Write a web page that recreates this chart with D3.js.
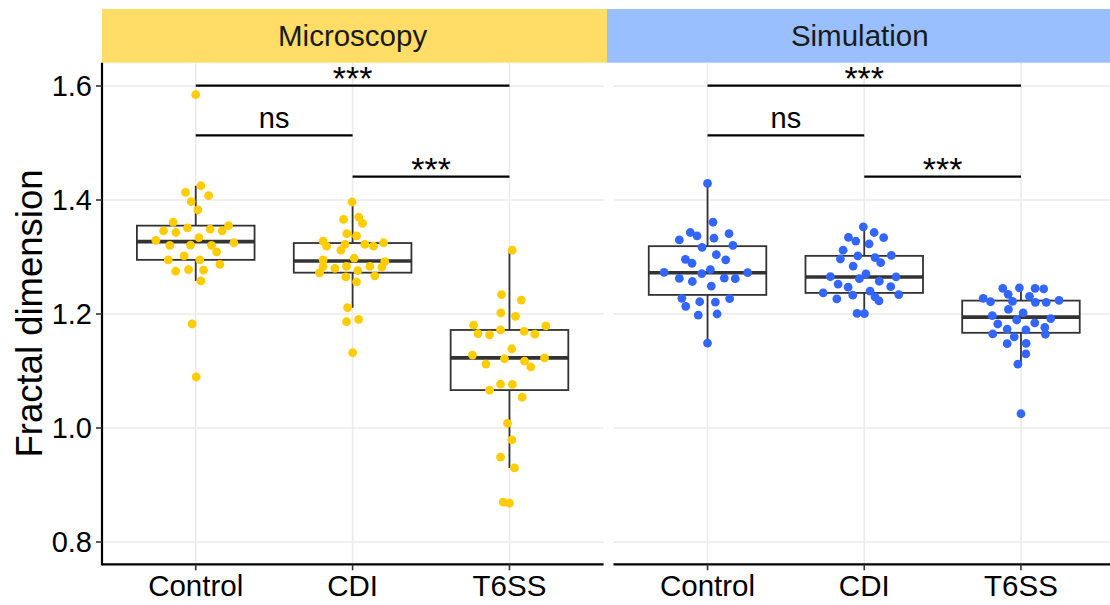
<!DOCTYPE html>
<html>
<head>
<meta charset="utf-8">
<script src="https://cdn.jsdelivr.net/npm/d3@7"></script>
<style>
	body { margin: 0; background: #fff; }
	svg { display: block; font-family: "Liberation Sans", Arial, Helvetica, sans-serif; }
</style>
</head>
<body>
<div id="chart"></div>
<script>
// categories / facets
var categories = ["Control", "CDI", "T6SS"];
var facets = ["Microscopy", "Simulation"];
var yTicks = [0.8, 1.0, 1.2, 1.4, 1.6];

// Microscopy values (fractal dimension) and horizontal jitter (category units)
var microControl = [1.585,1.425,1.4135,1.4075,1.397,1.3825,1.361,1.355,1.346,1.343,1.351,1.349,1.346,1.334,1.329,1.325,1.3205,1.321,1.3205,1.309,1.302,1.295,1.295,1.287,1.275,1.278,1.277,1.258,1.1825,1.0895];
var microControlJit = [0,0.033,-0.065,0.082,-0.029,0.014,-0.144,0.209,-0.205,-0.126,-0.052,0.092,0.168,0.02,-0.254,0.243,-0.165,-0.033,0.101,0.133,-0.074,-0.175,0.026,0.154,-0.128,-0.046,0.05,0.033,-0.023,0.003];
var microCDI = [1.3965,1.366,1.37,1.359,1.341,1.337,1.328,1.319,1.322,1.312,1.322,1.319,1.325,1.298,1.295,1.292,1.283,1.28,1.2835,1.276,1.2835,1.282,1.272,1.265,1.2565,1.267,1.211,1.1865,1.1905,1.132];
var microCDIJit = [-0.003,-0.058,0.039,0.063,-0.037,0.025,-0.188,-0.166,-0.048,-0.075,0.078,0.133,0.197,0.01,-0.188,0.205,-0.188,-0.113,-0.039,0.033,0.11,0.186,-0.211,-0.043,0.025,0.141,-0.032,-0.039,0.038,0];
var microT6SS = [1.312,1.234,1.2245,1.202,1.196,1.1805,1.179,1.1655,1.1635,1.172,1.1695,1.1645,1.139,1.128,1.1215,1.1175,1.123,1.112,1.107,1.0665,1.077,1.0765,1.054,1.008,0.979,0.949,0.93,0.87,0.868];
var microT6SSJit = [0.017,-0.051,0.075,-0.055,0.038,-0.229,0.232,-0.201,-0.127,-0.057,0.094,0.162,0.015,-0.236,-0.032,0.096,0.223,-0.15,0.136,-0.127,-0.057,0.019,0.081,-0.013,0.015,-0.057,0.032,-0.04,0];

// Simulation values and jitter
var simControl = [1.429,1.361,1.343,1.337,1.341,1.33,1.333,1.3205,1.317,1.304,1.296,1.289,1.295,1.273,1.278,1.271,1.2725,1.2625,1.257,1.263,1.262,1.249,1.2275,1.2215,1.221,1.227,1.2135,1.198,1.2,1.149];
var simControlJit = [0,0.035,-0.11,-0.067,0.137,-0.18,0.041,0.162,-0.035,0.056,-0.141,-0.099,0.116,-0.277,0.018,-0.037,0.256,-0.18,-0.097,0.107,0.177,0.024,-0.164,-0.05,0.05,0.141,-0.139,-0.059,0.061,0];
var simCDI = [1.353,1.3345,1.328,1.343,1.334,1.323,1.312,1.302,1.2965,1.299,1.29,1.303,1.284,1.2705,1.2655,1.262,1.2575,1.265,1.2525,1.247,1.248,1.237,1.233,1.24,1.23,1.234,1.2265,1.223,1.201,1.2005];
var simCDIJit = [-0.006,-0.101,-0.054,0.063,0.124,0.031,-0.135,-0.041,-0.152,0.069,0.105,0.173,-0.071,0.011,-0.216,-0.031,0.096,0.203,-0.167,-0.103,0.169,-0.262,-0.073,0.037,0.069,0.22,-0.175,0.094,-0.046,0.001];
var simT6SS = [1.246,1.245,1.245,1.244,1.2345,1.231,1.2275,1.2215,1.222,1.2205,1.2205,1.224,1.208,1.202,1.197,1.192,1.1895,1.1825,1.1845,1.1735,1.1765,1.172,1.165,1.16,1.1645,1.148,1.1485,1.13,1.112,1.025];
var simT6SSJit = [-0.01,-0.116,0.09,0.145,-0.082,0.054,-0.241,-0.194,-0.054,0.092,0.161,0.243,-0.08,0.014,-0.183,0.19,-0.027,-0.148,0.088,-0.088,0.152,0.031,-0.18,-0.043,0.156,-0.088,0.033,0.031,-0.02,0];

// box stats [lower whisker, q1, median, q3, upper whisker]
var microBoxes = [[1.258,1.295,1.327,1.355,1.425],[1.211,1.2725,1.293,1.3245,1.3965],[0.930,1.0665,1.123,1.172,1.312]];
var simBoxes = [[1.149,1.2335,1.2725,1.319,1.429],[1.2005,1.237,1.265,1.302,1.353],[1.112,1.167,1.1945,1.2235,1.246]];

// significance brackets: [from, to, y, label]
var comparisons = [["Control","T6SS",1.6005,"***"],["Control","CDI",1.5135,"ns"],["CDI","T6SS",1.441,"***"]];

var stripColors = ["#FFDD66", "#99BFFF"];
var pointColors = ["#FFCC00", "#3366FF"];

var width = 1110, height = 605;
var panelTop = 62.7, panelBottom = 564.3;
var panelX = [[101.6, 603.6], [613.5, 1115]];
var stripX = [[102, 607], [607, 1115]];

var svg = d3.select("#chart").append("svg")
	.attr("width", width)
	.attr("height", height);

var y = d3.scaleLinear().domain([0.8, 1.6]).range([542, 86]);

var groups = [
	[{v: microControl, j: microControlJit}, {v: microCDI, j: microCDIJit}, {v: microT6SS, j: microT6SSJit}],
	[{v: simControl, j: simControlJit}, {v: simCDI, j: simCDIJit}, {v: simT6SS, j: simT6SSJit}]
];
var boxes = [microBoxes, simBoxes];

facets.forEach(function(f, fi) {
	var x = d3.scalePoint().domain(categories).range(panelX[fi]).padding(0.6);
	var step = x.step();
	var bw = step * 0.75;
	var g = svg.append("g");

	// strip
	g.append("rect")
		.attr("x", stripX[fi][0]).attr("y", 9)
		.attr("width", stripX[fi][1] - stripX[fi][0]).attr("height", panelTop - 9)
		.style("fill", stripColors[fi]);
	g.append("text")
		.attr("x", (panelX[fi][0] + Math.min(panelX[fi][1], width)) / 2 + (fi == 0 ? 0 : -2))
		.attr("y", 46)
		.attr("text-anchor", "middle")
		.style("font-size", "29.5px")
		.style("fill", "#1a1a1a")
		.text(f);

	// grid
	g.selectAll(".hgrid").data(yTicks).enter().append("line")
		.attr("x1", panelX[fi][0]).attr("x2", panelX[fi][1])
		.attr("y1", function(d) { return y(d); }).attr("y2", function(d) { return y(d); })
		.style("stroke", "#EBEBEB").style("stroke-width", 1.6);
	g.selectAll(".vgrid").data(categories).enter().append("line")
		.attr("x1", function(d) { return x(d); }).attr("x2", function(d) { return x(d); })
		.attr("y1", panelTop).attr("y2", panelBottom)
		.style("stroke", "#EBEBEB").style("stroke-width", 1.6);

	// boxplots
	categories.forEach(function(c, ci) {
		var b = boxes[fi][ci];
		var cx = x(c);
		g.append("line")
			.attr("x1", cx).attr("x2", cx).attr("y1", y(b[4])).attr("y2", y(b[3]))
			.style("stroke", "#333").style("stroke-width", 1.8);
		g.append("line")
			.attr("x1", cx).attr("x2", cx).attr("y1", y(b[1])).attr("y2", y(b[0]))
			.style("stroke", "#333").style("stroke-width", 1.8);
		g.append("rect")
			.attr("x", cx - bw / 2).attr("y", y(b[3]))
			.attr("width", bw).attr("height", y(b[1]) - y(b[3]))
			.style("fill", "#fff").style("stroke", "#333").style("stroke-width", 1.8);
		g.append("line")
			.attr("x1", cx - bw / 2).attr("x2", cx + bw / 2).attr("y1", y(b[2])).attr("y2", y(b[2]))
			.style("stroke", "#333").style("stroke-width", 3.6);
	});

	// jittered points
	categories.forEach(function(c, ci) {
		var grp = groups[fi][ci];
		g.selectAll(".pt" + ci).data(grp.v).enter().append("circle")
			.attr("cx", function(d, i) { return x(c) + grp.j[i] * step; })
			.attr("cy", function(d) { return y(d); })
			.attr("r", 4.4)
			.style("fill", pointColors[fi]);
	});

	// significance brackets
	comparisons.forEach(function(cmp) {
		var yy = y(cmp[2]);
		g.append("line")
			.attr("x1", x(cmp[0])).attr("x2", x(cmp[1]))
			.attr("y1", yy).attr("y2", yy)
			.style("stroke", "#000").style("stroke-width", 2.2);
		g.append("text")
			.attr("x", (x(cmp[0]) + x(cmp[1])) / 2)
			.attr("y", cmp[3] == "ns" ? yy - 7 : yy + 4)
			.attr("text-anchor", "middle")
			.style("font-size", cmp[3] == "ns" ? "29px" : "34px")
			.style("fill", "#000")
			.text(cmp[3]);
	});

	// x axis
	g.append("line")
		.attr("x1", panelX[fi][0]).attr("x2", panelX[fi][1])
		.attr("y1", panelBottom).attr("y2", panelBottom)
		.style("stroke", "#000").style("stroke-width", 2.2);
	g.selectAll(".xtick").data(categories).enter().append("line")
		.attr("x1", function(d) { return x(d); }).attr("x2", function(d) { return x(d); })
		.attr("y1", panelBottom).attr("y2", panelBottom + 6)
		.style("stroke", "#333").style("stroke-width", 1.6);
	g.selectAll(".xlab").data(categories).enter().append("text")
		.attr("x", function(d) { return x(d); })
		.attr("y", 596)
		.attr("text-anchor", "middle")
		.style("font-size", "29.5px")
		.style("fill", "#000")
		.text(function(d) { return d; });
});

// y axis (left panel only)
svg.append("line")
	.attr("x1", 102).attr("x2", 102)
	.attr("y1", panelTop).attr("y2", panelBottom + 1)
	.style("stroke", "#000").style("stroke-width", 2.2);
svg.selectAll(".ytick").data(yTicks).enter().append("line")
	.attr("x1", 96).attr("x2", 102)
	.attr("y1", function(d) { return y(d); }).attr("y2", function(d) { return y(d); })
	.style("stroke", "#333").style("stroke-width", 1.6);
svg.selectAll(".ylab").data(yTicks).enter().append("text")
	.attr("x", 92)
	.attr("y", function(d) { return y(d); })
	.attr("dy", "0.36em")
	.attr("text-anchor", "end")
	.style("font-size", "29px")
	.style("fill", "#000")
	.text(function(d) { return d3.format(".1f")(d); });

svg.append("text")
	.attr("transform", "translate(42," + ((panelTop + panelBottom) / 2) + ") rotate(-90)")
	.attr("text-anchor", "middle")
	.style("font-size", "36.5px")
	.style("fill", "#000")
	.text("Fractal dimension");
</script>
</body>
</html>
